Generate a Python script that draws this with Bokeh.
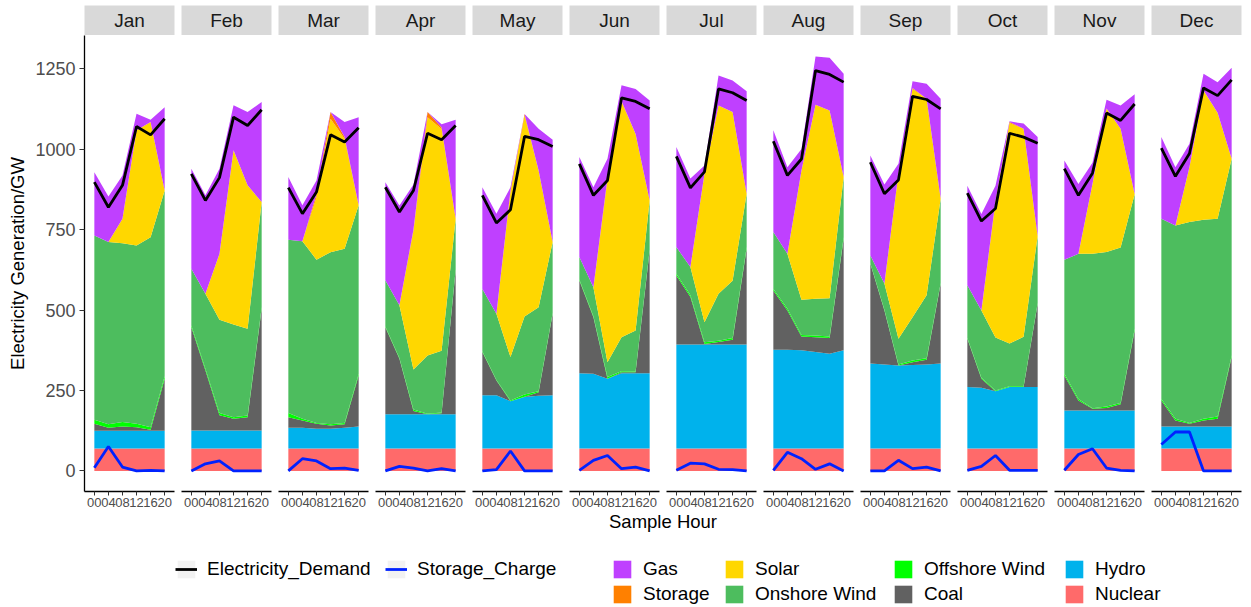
from bokeh.plotting import figure
from bokeh.models import (Range1d, FactorRange, FixedTicker, ColumnDataSource,
                          Legend, LegendItem, Label)
from bokeh.layouts import row, column
from bokeh.embed import file_html
from bokeh.resources import INLINE
from bokeh.core.properties import value

# ---------------- data ----------------
months = ["Jan", "Feb", "Mar", "Apr", "May", "Jun",
          "Jul", "Aug", "Sep", "Oct", "Nov", "Dec"]
hours = ["00", "04", "08", "12", "16", "20"]

nuclear = [
    [70, 70, 70, 70, 70, 70], [70, 70, 70, 70, 70, 70], [70, 70, 70, 70, 70, 70],
    [70, 70, 70, 70, 70, 70], [70, 70, 70, 70, 70, 70], [70, 70, 70, 70, 70, 70],
    [70, 70, 70, 70, 70, 70], [70, 70, 70, 70, 70, 70], [70, 70, 70, 70, 70, 70],
    [70, 70, 70, 70, 70, 70], [70, 70, 70, 70, 70, 70], [70, 70, 70, 70, 70, 70],
]
hydro = [
    [55, 55, 55, 55, 55, 55], [56, 56, 56, 56, 56, 56], [64, 64, 61, 61, 64, 68],
    [106, 106, 106, 106, 106, 106], [165, 165, 147, 160, 164, 165], [234, 232, 217, 234, 234, 234],
    [323, 323, 323, 323, 323, 323], [307, 307, 305, 300, 294, 305], [264, 261, 258, 259, 261, 264],
    [191, 189, 178, 191, 191, 191], [118, 118, 118, 118, 118, 118], [68, 68, 68, 68, 68, 68],
]
coal = [
    [22, 9, 13, 11, 3, 162], [321, 186, 47, 36, 41, 378], [33, 23, 16, 10, 11, 159],
    [271, 173, 10, 0, 3, 448], [135, 46, 0, 1, 11, 254], [288, 176, 0, 3, 3, 381],
    [215, 148, 2, 8, 15, 298], [184, 122, 43, 46, 49, 347], [310, 168, 0, 9, 15, 248],
    [150, 28, 0, 0, 0, 259], [109, 31, 5, 8, 19, 249], [81, 19, 9, 19, 24, 216],
]
offshore_wind = [
    [12, 11, 14, 11, 8, 7], [5, 6, 7, 5, 5, 5], [13, 5, 2, 4, 4, 5],
    [2, 2, 5, 2, 3, 2], [2, 2, 2, 7, 3, 2], [3, 3, 5, 3, 2, 3],
    [5, 5, 5, 4, 5, 5], [5, 5, 5, 5, 5, 5], [2, 2, 3, 5, 4, 2],
    [2, 3, 2, 2, 2, 2], [5, 5, 2, 4, 4, 5], [5, 5, 2, 5, 7, 5],
]
onshore_wind = [
    [573, 567, 556, 554, 591, 578], [177, 233, 290, 288, 270, 327], [539, 552, 508, 535, 542, 524],
    [144, 164, 124, 181, 192, 158], [194, 206, 135, 242, 261, 221], [70, 90, 46, 106, 128, 153],
    [83, 88, 62, 146, 178, 166], [177, 171, 109, 114, 119, 187], [24, 82, 80, 135, 196, 262],
    [164, 209, 165, 133, 154, 208], [355, 451, 480, 481, 484, 418], [560, 601, 625, 619, 615, 612],
]
solar = [
    [0, 0, 76, 358, 358, 0], [0, 0, 205, 542, 446, 0], [0, 0, 194, 415, 342, 0],
    [0, 0, 431, 741, 689, 0], [0, 0, 513, 625, 425, 0], [0, 0, 565, 731, 611, 0],
    [0, 0, 462, 585, 525, 0], [0, 0, 402, 604, 584, 0], [0, 0, 514, 710, 611, 0],
    [0, 0, 419, 686, 647, 0], [0, 0, 217, 446, 369, 0], [0, 0, 171, 402, 330, 0],
]
storage = [
    [0, 0, 0, 0, 0, 0], [0, 0, 0, 0, 0, 0], [0, 0, 10, 21, 5, 0],
    [0, 0, 5, 16, 5, 0], [0, 0, 5, 5, 0, 0], [0, 0, 8, 3, 0, 0],
    [0, 0, 0, 0, 0, 0], [0, 0, 0, 0, 0, 0], [0, 0, 0, 3, 0, 0],
    [0, 0, 5, 3, 0, 0], [0, 0, 0, 0, 0, 0], [0, 0, 0, 0, 0, 0],
]
gas = [
    [197, 141, 135, 52, 7, 259], [311, 306, 265, 140, 228, 311], [195, 112, 42, 0, 47, 274],
    [305, 310, 140, 0, 10, 308], [316, 311, 10, 0, 130, 318], [311, 311, 60, 49, 140, 311],
    [311, 275, 26, 94, 98, 319], [316, 269, 67, 150, 164, 321], [311, 308, 30, 21, 47, 311],
    [310, 300, 48, 2, 16, 308], [308, 217, 66, 27, 72, 311], [254, 181, 72, 52, 95, 283],
]
electricity_demand = [
    [898, 820, 888, 1071, 1045, 1095], [924, 841, 912, 1100, 1074, 1123],
    [881, 800, 867, 1045, 1023, 1067], [882, 805, 872, 1050, 1030, 1074],
    [857, 771, 812, 1040, 1030, 1009], [955, 857, 903, 1160, 1149, 1126],
    [978, 880, 930, 1188, 1176, 1152], [1025, 919, 970, 1245, 1233, 1209],
    [960, 862, 905, 1165, 1155, 1126], [864, 777, 816, 1050, 1038, 1019],
    [940, 857, 926, 1113, 1090, 1141], [1004, 916, 987, 1191, 1167, 1216],
]
storage_charge = [
    [10, 76, 12, 0, 2, 0], [0, 22, 31, 0, 0, 0], [0, 38, 31, 7, 9, 2],
    [0, 14, 9, 0, 7, 0], [0, 4, 62, 0, 0, 0], [2, 33, 48, 7, 12, 0],
    [2, 24, 22, 5, 4, 0], [2, 58, 38, 5, 22, 0], [0, 0, 33, 7, 12, 0],
    [2, 14, 48, 2, 2, 2], [2, 51, 69, 9, 2, 0], [82, 121, 121, 0, 0, 0],
]
y_ticks = [0, 250, 500, 750, 1000, 1250]

# stacking order bottom -> top
sources = ["Nuclear", "Hydro", "Coal", "Offshore Wind", "Onshore Wind", "Solar", "Storage", "Gas"]
series = {"Nuclear": nuclear, "Hydro": hydro, "Coal": coal, "Offshore Wind": offshore_wind,
          "Onshore Wind": onshore_wind, "Solar": solar, "Storage": storage, "Gas": gas}
colors = {"Nuclear": "#FF6A6A", "Hydro": "#00B2EC", "Coal": "#616161",
          "Offshore Wind": "#00FF00", "Onshore Wind": "#4DBD5E", "Solar": "#FFD700",
          "Storage": "#FF8000", "Gas": "#BF40FF"}
DEMAND_COLOR = "#000000"
CHARGE_COLOR = "#0022FF"

FONT = "Liberation Sans"
FRAME_W = 90
GAP_L, GAP_R = 4, 3
LEFT0 = 84

y_range = Range1d(-64, 1354)
strips, panels = [], []
for i, m in enumerate(months):
    lb = LEFT0 if i == 0 else GAP_L
    # facet strip
    s = figure(x_range=FactorRange(factors=[m]), y_range=FactorRange(factors=[m]),
               frame_width=FRAME_W, frame_height=30,
               min_border_left=lb, min_border_right=GAP_R, min_border_top=5, min_border_bottom=0,
               x_axis_location=None, y_axis_location=None, toolbar_location=None,
               background_fill_color="#D9D9D9", outline_line_color=None,
               output_backend="svg")
    s.grid.visible = False
    s.text(x=[m], y=[m], text=[m], text_align="center", text_baseline="middle",
           text_font=value(FONT), text_font_size="19px", text_color="#1A1A1A")
    strips.append(s)

    # facet panel
    data = {"hour": hours, "demand": electricity_demand[i], "charge": storage_charge[i]}
    for k in sources:
        data[k] = series[k][i]
    src = ColumnDataSource(data)
    p = figure(x_range=FactorRange(factors=hours, range_padding=0.2, range_padding_units="absolute"),
               y_range=y_range, frame_width=FRAME_W, frame_height=456,
               min_border_left=lb, min_border_right=GAP_R, min_border_top=0, min_border_bottom=20,
               y_axis_location="left" if i == 0 else None, toolbar_location=None,
               outline_line_color=None, output_backend="svg")
    p.grid.visible = False
    p.varea_stack(stackers=sources, x="hour", color=[colors[k] for k in sources], source=src)
    p.line("hour", "charge", source=src, line_color=CHARGE_COLOR, line_width=2.8)
    p.line("hour", "demand", source=src, line_color=DEMAND_COLOR, line_width=2.8)

    xa = p.xaxis[0]
    xa.axis_line_color = "#000000"
    xa.axis_line_width = 1.3
    xa.major_tick_out = 4
    xa.major_tick_in = 0
    xa.major_tick_line_color = "#333333"
    xa.major_label_text_font = FONT
    xa.major_label_text_font_size = "13px"
    xa.major_label_text_color = "#4D4D4D"
    xa.major_label_standoff = 2
    if i == 0:
        ya = p.yaxis[0]
        ya.ticker = FixedTicker(ticks=y_ticks)
        ya.axis_line_color = "#000000"
        ya.axis_line_width = 1.3
        ya.major_tick_out = 5
        ya.major_tick_in = 0
        ya.major_tick_line_color = "#333333"
        ya.minor_tick_line_color = None
        ya.major_label_text_font = FONT
        ya.major_label_text_font_size = "18px"
        ya.major_label_text_color = "#4D4D4D"
        ya.major_label_standoff = 4
        ya.axis_label = "Electricity Generation/GW"
        ya.axis_label_text_font = FONT
        ya.axis_label_text_font_size = "18.5px"
        ya.axis_label_text_font_style = "normal"
        ya.axis_label_text_color = "#000000"
        ya.axis_label_standoff = 4
    panels.append(p)

# ---------------- bottom: x title + legends ----------------
W = LEFT0 + FRAME_W + GAP_R + (len(months) - 1) * (GAP_L + FRAME_W + GAP_R)
H = 96
b = figure(x_range=Range1d(0, W), y_range=Range1d(0, H), frame_width=W, frame_height=H,
           min_border=0, x_axis_location=None, y_axis_location=None, toolbar_location=None,
           outline_line_color=None, output_backend="svg")
b.grid.visible = False
panels_center = LEFT0 + (len(months) * (FRAME_W + GAP_L + GAP_R) - GAP_L - GAP_R) / 2
b.add_layout(Label(x=panels_center, y=H - 10, text="Sample Hour", text_align="center",
                   text_baseline="middle", text_font=FONT, text_font_size="18.5px",
                   text_color="#000000"))

# legend-only renderers (degenerate, nothing visible is drawn)
key_bg = b.varea(x=[0], y1=[0], y2=[0], fill_color="#F2F2F2")
r_dem = b.line(x=[0], y=[0], line_color=DEMAND_COLOR, line_width=2.8)
r_chg = b.line(x=[0], y=[0], line_color=CHARGE_COLOR, line_width=2.8)
fill_r = {k: b.varea(x=[0], y1=[0], y2=[0], fill_color=colors[k]) for k in sources}


def make_legend(items, x, y):
    lg = Legend(items=items, location=(x, y), orientation="vertical",
                padding=0, margin=0, spacing=3, glyph_width=22, glyph_height=22,
                label_standoff=10, label_height=22, label_text_font=FONT,
                label_text_font_size="19px", label_text_color="#000000",
                border_line_color=None, background_fill_alpha=0)
    b.add_layout(lg)


make_legend([LegendItem(label="Electricity_Demand", renderers=[key_bg, r_dem])], 175, 27)
make_legend([LegendItem(label="Storage_Charge", renderers=[key_bg, r_chg])], 385, 27)
legend_cols = [["Gas", "Storage"], ["Solar", "Onshore Wind"],
               ["Offshore Wind", "Coal"], ["Hydro", "Nuclear"]]
legend_x = [611, 723, 892, 1063]
for col, lx in zip(legend_cols, legend_x):
    make_legend([LegendItem(label=k, renderers=[fill_r[k]]) for k in col], lx, 2)

layout = column(row(*strips), row(*panels), b)
open("out.html", "w").write(file_html(layout, INLINE))
